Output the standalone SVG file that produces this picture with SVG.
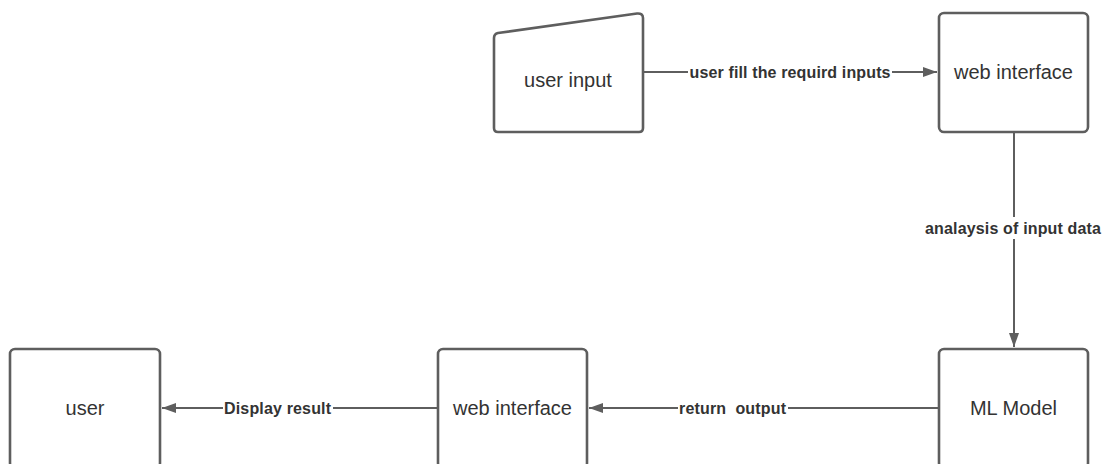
<svg xmlns="http://www.w3.org/2000/svg" width="1107" height="464" viewBox="0 0 1107 464">
  <style>
    .box { fill: #ffffff; stroke: #5e5e5e; stroke-width: 2.6; stroke-linejoin: round; }
    .node-text { font-family: "Liberation Sans", Arial, sans-serif; font-size: 20px; fill: #333333; text-anchor: middle; dominant-baseline: central; }
    .edge { stroke: #5e5e5e; stroke-width: 2; fill: none; }
    .label-bg { fill: #ffffff; }
    .edge-label { font-family: "Liberation Sans", Arial, sans-serif; font-size: 16px; font-weight: bold; fill: #333333; text-anchor: middle; dominant-baseline: central; white-space: pre; }
  </style>
  <defs>
    <marker id="arrow" viewBox="0 0 14 10" refX="14" refY="5" markerWidth="14" markerHeight="10" markerUnits="userSpaceOnUse" orient="auto">
      <path d="M0,0 L14,5 L0,10 Z" fill="#5e5e5e"/>
    </marker>
  </defs>
  <rect width="1107" height="464" fill="#ffffff"/>

  <g id="connectors">
    <path class="edge" d="M643,72 L937,72" marker-end="url(#arrow)"/>
    <path class="edge" d="M1014,132 L1014,347" marker-end="url(#arrow)"/>
    <path class="edge" d="M939,408 L589,408" marker-end="url(#arrow)"/>
    <path class="edge" d="M438,408 L162,408" marker-end="url(#arrow)"/>

    <rect class="label-bg" x="688" y="62" width="204" height="20"/>
    <text class="edge-label" x="790" y="72" textLength="201">user fill the requird inputs</text>

    <rect class="label-bg" x="924" y="217" width="178" height="22"/>
    <text class="edge-label" x="1013" y="228" textLength="176">analaysis of input data</text>

    <rect class="label-bg" x="678" y="398" width="110" height="20"/>
    <text class="edge-label" x="732.5" y="408" textLength="107" xml:space="preserve">return  output</text>

    <rect class="label-bg" x="223" y="398" width="110" height="20"/>
    <text class="edge-label" x="277.5" y="408" textLength="107">Display result</text>
  </g>

  <g id="user-input">
    <path class="box" d="M498,33 L637,13.5 Q643,13 643,18 L643,128 Q643,132 639,132 L498,132 Q494,132 494,128 L494,38 Q494,34 498,33 Z"/>
    <text class="node-text" x="568" y="80">user input</text>
  </g>

  <g id="web-interface-top">
    <rect class="box" x="939" y="13" width="149" height="119" rx="5"/>
    <text class="node-text" x="1013.5" y="72">web interface</text>
  </g>

  <g id="ml-model">
    <rect class="box" x="939" y="349" width="149" height="119" rx="5"/>
    <text class="node-text" x="1013.5" y="408">ML Model</text>
  </g>

  <g id="web-interface-bottom">
    <rect class="box" x="438" y="349" width="149" height="119" rx="5"/>
    <text class="node-text" x="512.5" y="408">web interface</text>
  </g>

  <g id="user">
    <rect class="box" x="10" y="349" width="150" height="119" rx="5"/>
    <text class="node-text" x="85" y="408">user</text>
  </g>
</svg>
